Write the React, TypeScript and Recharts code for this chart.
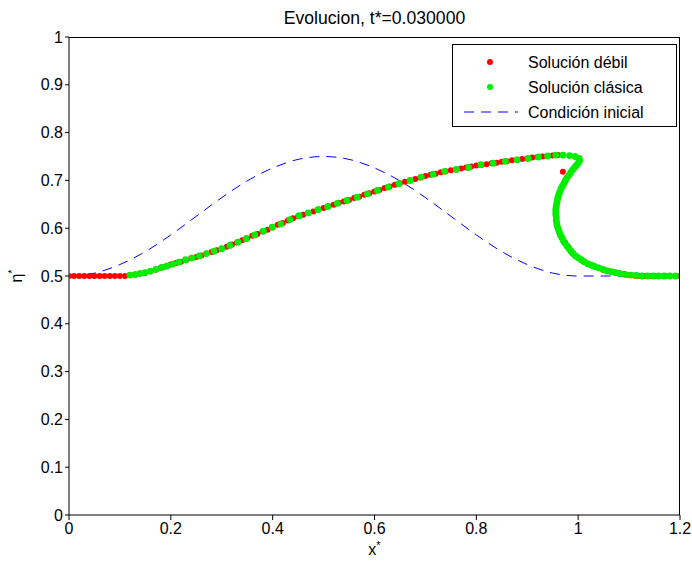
// Evolución de la superficie libre: solución débil vs clásica, con la condición inicial

import {
  ComposedChart,
  Scatter,
  Line,
  XAxis,
  YAxis,
  Legend,
} from 'recharts';

const FONT = '"Liberation Sans", Arial, Helvetica, sans-serif';

const xTicks = [0, 0.2, 0.4, 0.6, 0.8, 1, 1.2];
const yTicks = [0, 0.1, 0.2, 0.3, 0.4, 0.5, 0.6, 0.7, 0.8, 0.9, 1];
const legendOrder = ['Solución débil', 'Solución clásica', 'Condición inicial'];

const initialX = [
  0, 0.05, 0.1, 0.15, 0.2, 0.25, 0.3, 0.35, 0.4, 0.45, 0.5, 0.55, 0.6,
  0.65, 0.7, 0.75, 0.8, 0.85, 0.9, 0.95, 1, 1.05, 1.1, 1.15, 1.2,
];
const initialEta = [
  0.5, 0.506, 0.524, 0.551, 0.586, 0.625, 0.664, 0.699, 0.726, 0.744, 0.75, 0.744, 0.726,
  0.699, 0.664, 0.625, 0.586, 0.551, 0.524, 0.506, 0.5, 0.5, 0.5, 0.5, 0.5,
];

// solución débil (puntos rojos), [x*, eta*]
const weakSolution: [number, number][] = [
  [0, 0.5], [0.01, 0.5], [0.02, 0.5], [0.03, 0.5], [0.04, 0.5], [0.05, 0.5], [0.06, 0.5],
  [0.07, 0.5], [0.08, 0.5], [0.09, 0.5], [0.1, 0.5], [0.11, 0.5], [0.12, 0.502], [0.13, 0.503],
  [0.14, 0.505], [0.15, 0.507], [0.16, 0.51], [0.17, 0.513], [0.18, 0.517], [0.19, 0.52],
  [0.2, 0.524], [0.21, 0.527], [0.22, 0.53], [0.23, 0.533], [0.24, 0.537], [0.25, 0.54],
  [0.26, 0.543], [0.27, 0.547], [0.28, 0.55], [0.29, 0.554], [0.3, 0.557], [0.31, 0.561],
  [0.32, 0.566], [0.33, 0.57], [0.34, 0.575], [0.35, 0.579], [0.36, 0.584], [0.37, 0.588],
  [0.38, 0.593], [0.39, 0.597], [0.4, 0.602], [0.41, 0.607], [0.42, 0.611], [0.43, 0.616],
  [0.44, 0.621], [0.45, 0.625], [0.46, 0.628], [0.47, 0.632], [0.48, 0.635], [0.49, 0.639],
  [0.5, 0.642], [0.51, 0.646], [0.52, 0.649], [0.53, 0.653], [0.54, 0.656], [0.55, 0.659],
  [0.56, 0.663], [0.57, 0.666], [0.58, 0.67], [0.59, 0.673], [0.6, 0.677], [0.61, 0.68],
  [0.62, 0.684], [0.63, 0.687], [0.64, 0.691], [0.65, 0.694], [0.66, 0.697], [0.67, 0.7],
  [0.68, 0.703], [0.69, 0.706], [0.7, 0.709], [0.71, 0.712], [0.72, 0.714], [0.73, 0.717],
  [0.74, 0.719], [0.75, 0.721], [0.76, 0.723], [0.77, 0.725], [0.78, 0.727], [0.79, 0.729],
  [0.8, 0.731], [0.81, 0.733], [0.82, 0.734], [0.83, 0.736], [0.84, 0.737], [0.85, 0.739],
  [0.86, 0.74], [0.87, 0.742], [0.88, 0.743], [0.89, 0.745], [0.9, 0.746], [0.91, 0.748],
  [0.92, 0.749], [0.93, 0.75], [0.94, 0.751], [0.95, 0.752], [0.96, 0.753], [0.97, 0.718],
  [0.98, 0.561], [0.99, 0.547], [1, 0.538], [1.01, 0.531], [1.02, 0.525], [1.03, 0.521],
  [1.04, 0.517], [1.05, 0.513], [1.06, 0.51], [1.07, 0.508], [1.08, 0.506], [1.09, 0.504],
  [1.1, 0.502], [1.11, 0.501], [1.12, 0.5], [1.13, 0.5], [1.14, 0.5], [1.15, 0.5],
  [1.16, 0.5], [1.17, 0.5], [1.18, 0.5], [1.19, 0.5], [1.2, 0.5],
];

// solución clásica (puntos verdes), incluye el pliegue cerca de x*=1
const classicSolution: [number, number][] = [
  [0.12, 0.502], [0.13, 0.503], [0.139, 0.505], [0.149, 0.507], [0.16, 0.51], [0.171, 0.514],
  [0.182, 0.518], [0.193, 0.521], [0.204, 0.525], [0.216, 0.529], [0.229, 0.534], [0.242, 0.538],
  [0.256, 0.542], [0.27, 0.547], [0.285, 0.552], [0.3, 0.557], [0.316, 0.564], [0.332, 0.571],
  [0.348, 0.578], [0.365, 0.586], [0.382, 0.594], [0.399, 0.602], [0.416, 0.609], [0.434, 0.618],
  [0.452, 0.626], [0.47, 0.632], [0.489, 0.639], [0.508, 0.645], [0.527, 0.652], [0.546, 0.658],
  [0.566, 0.665], [0.586, 0.672], [0.606, 0.679], [0.627, 0.686], [0.648, 0.693], [0.67, 0.7],
  [0.692, 0.707], [0.715, 0.713], [0.738, 0.719], [0.761, 0.723], [0.785, 0.727], [0.809, 0.733],
  [0.833, 0.736], [0.857, 0.74], [0.88, 0.743], [0.902, 0.746], [0.922, 0.749], [0.94, 0.751],
  [0.956, 0.753], [0.97, 0.753], [0.983, 0.752], [0.994, 0.75], [1.002, 0.746],
  [1.003, 0.741], [1.0, 0.736], [0.996, 0.731], [0.993, 0.727], [0.989, 0.722], [0.985, 0.716],
  [0.982, 0.711], [0.978, 0.705], [0.975, 0.7], [0.972, 0.694], [0.969, 0.688], [0.966, 0.682],
  [0.964, 0.676], [0.962, 0.67], [0.96, 0.664], [0.959, 0.658], [0.958, 0.652], [0.957, 0.646],
  [0.956, 0.64], [0.956, 0.634], [0.956, 0.628], [0.957, 0.622], [0.957, 0.616], [0.958, 0.61],
  [0.959, 0.604], [0.961, 0.598], [0.963, 0.592], [0.965, 0.586], [0.968, 0.58], [0.971, 0.574],
  [0.974, 0.569], [0.978, 0.563], [0.982, 0.557], [0.986, 0.552], [0.99, 0.547], [0.995, 0.542],
  [1.0, 0.538], [1.006, 0.534], [1.012, 0.53], [1.018, 0.526], [1.025, 0.523], [1.032, 0.52],
  [1.04, 0.517], [1.048, 0.514], [1.056, 0.511], [1.065, 0.509], [1.074, 0.507], [1.083, 0.505],
  [1.093, 0.503], [1.103, 0.502], [1.114, 0.501], [1.125, 0.5], [1.136, 0.5], [1.147, 0.5],
  [1.158, 0.5], [1.169, 0.5], [1.18, 0.5], [1.191, 0.5],
];

const initialData = initialX.map((x, i) => ({ x, eta: initialEta[i] }));
const weakData = weakSolution.map(([x, eta]) => ({ x, eta }));
const classicData = classicSolution.map(([x, eta]) => ({ x, eta }));

const CHART_W = 692;
const CHART_H = 565;
const MARGIN = { top: 37, right: 12, bottom: 0, left: 0 };
const X_AXIS_H = 50;
const Y_AXIS_W = 69;
const X_MARGIN = 14;
const Y_MARGIN = 12;
const PLOT_TOP = MARGIN.top;

const tickStyle = { fill: '#000', fontSize: 16, fontFamily: FONT };

const Dot = (color: string, r: number) => (props: any) =>
  <circle cx={props.cx} cy={props.cy} r={r} fill={color} />;

function MatlabLegend({ payload }: any) {
  const items = (payload || [])
    .filter((e: any) => legendOrder.includes(e.value))
    .sort((a: any, b: any) => legendOrder.indexOf(a.value) - legendOrder.indexOf(b.value));
  return (
    <svg width={226} height={84} style={{ display: 'block' }}>
      <rect x={0.5} y={0.5} width={224} height={82} fill="#fff" stroke="#000" />
      {items.map((entry: any, i: number) => {
        const cy = 18 + i * 25;
        return (
          <g key={entry.value}>
            {entry.type === 'line' ? (
              <line x1={12} x2={66} y1={cy} y2={cy} stroke={entry.color} strokeDasharray="10 7" />
            ) : (
              <circle cx={38} cy={cy} r={3} fill={entry.color} />
            )}
            <text x={76} y={cy} dy="0.35em" fontSize={16} fontFamily={FONT} fill="#000">
              {entry.value}
            </text>
          </g>
        );
      })}
    </svg>
  );
}

export default function App() {
  return (
    <div style={{ position: 'absolute', left: 0, top: 0, width: CHART_W, height: CHART_H, background: '#fff' }}>
      <ComposedChart width={CHART_W} height={CHART_H} margin={MARGIN}>
        <XAxis
          dataKey="x"
          type="number"
          domain={[0, 1.2]}
          ticks={xTicks}
          allowDataOverflow
          height={X_AXIS_H}
          stroke="#000"
          tickSize={5}
          tickMargin={3}
          tick={tickStyle}
          label={{
            content: ({ viewBox }: any) => {
              const cx = viewBox.x + viewBox.width / 2;
              return (
                <g>
                  <text x={cx} y={viewBox.y + 40} textAnchor="middle" fontSize={16} fontFamily={FONT}>
                    x<tspan dy={-6} fontSize={11}>*</tspan>
                  </text>
                  <text x={cx} y={PLOT_TOP - 13} textAnchor="middle" fontSize={17.6} fontFamily={FONT}>
                    Evolucion, t*=0.030000
                  </text>
                </g>
              );
            },
          }}
        />
        <YAxis
          dataKey="eta"
          type="number"
          domain={[0, 1]}
          ticks={yTicks}
          allowDataOverflow
          width={Y_AXIS_W}
          stroke="#000"
          tickSize={4}
          tickMargin={2}
          tick={tickStyle}
          label={{
            content: ({ viewBox }: any) => {
              const cx = 22;
              const cy = viewBox.y + viewBox.height / 2;
              return (
                <text
                  x={cx}
                  y={cy}
                  transform={`rotate(-90, ${cx}, ${cy})`}
                  textAnchor="middle"
                  fontSize={16}
                  fontFamily={FONT}
                >
                  η<tspan dy={-6} fontSize={11}>*</tspan>
                </text>
              );
            },
          }}
        />
        <Scatter
          name="Solución débil"
          data={weakData}
          dataKey="eta"
          fill="#ff0000"
          legendType="circle"
          shape={Dot('#ff0000', 3)}
          isAnimationActive={false}
        />
        <Scatter
          name="Solución clásica"
          data={classicData}
          dataKey="eta"
          fill="#00ee00"
          legendType="circle"
          shape={Dot('#00ee00', 3.4)}
          isAnimationActive={false}
        />
        <Line
          name="Condición inicial"
          data={initialData}
          dataKey="eta"
          type="monotone"
          stroke="#0000ff"
          strokeWidth={1}
          strokeDasharray="10 7"
          dot={false}
          legendType="line"
          isAnimationActive={false}
        />
        <Legend
          layout="horizontal"
          verticalAlign="middle"
          align="center"
          content={<MatlabLegend />}
          wrapperStyle={{ position: 'absolute', left: 452, top: 44, width: 226, height: 84 }}
        />
      </ComposedChart>
      {/* caja de ejes (lados superior y derecho) */}
      <div
        style={{
          position: 'absolute',
          left: MARGIN.left + Y_AXIS_W,
          top: MARGIN.top,
          width: CHART_W - MARGIN.left - MARGIN.right - Y_AXIS_W,
          height: CHART_H - MARGIN.top - MARGIN.bottom - X_AXIS_H,
          boxSizing: 'border-box',
          borderTop: '1px solid #000',
          borderRight: '1px solid #000',
          pointerEvents: 'none',
        }}
      />
    </div>
  );
}
